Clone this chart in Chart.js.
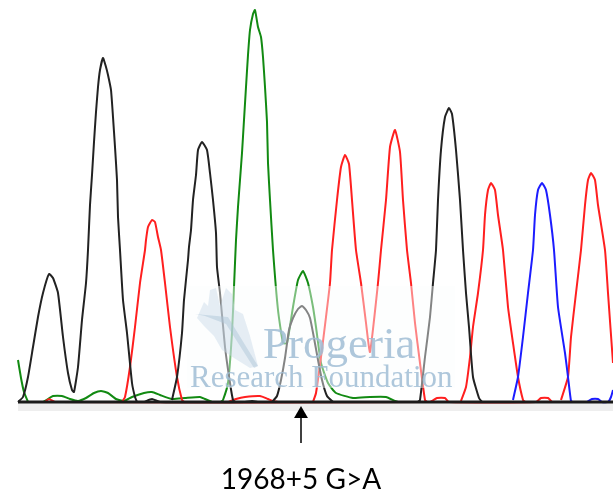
<!DOCTYPE html>
<html>
<head>
<meta charset="utf-8">
<style>
html, body { margin: 0; padding: 0; background: #fff; overflow: hidden; }
#wrap { width: 613px; height: 493px; }
</style>
<script src="https://cdn.jsdelivr.net/npm/chart.js@4"></script>
</head>
<body>
<div id="wrap"><canvas id="myChart" width="613" height="493"></canvas></div>
<script>
// trace values as [scan position, signal height above the baseline]
const blackPeaks = [[18,0],[23,5],[28,25],[33,55],[38,85],[43,109],[49,128],[53,124],[58,109],[63,65],[68,29],[72,12],[74,10],[78,35],[82,82],[86,119],[88,152],[90,197],[92,227],[94,260],[96,290],[98,315],[100,332],[103,344],[106,335],[108,327],[111,312],[113,285],[115,255],[117,222],[118,185],[120,152],[123,102],[127,69],[132,19],[135,5],[137,0]];
const blackPeak2 = [[172,2],[177,25],[182,69],[184,102],[188,142],[189,155],[191,172],[193,202],[196,227],[198,252],[202,260],[207,252],[210,229],[213,202],[216,169],[217,135],[220,109],[225,55],[230,19],[233,2],[235,0]];
const blackSmall = [[272,0],[277,6],[281,22],[285,44],[289,72],[293,84],[298,93],[302,96],[306,92],[310,84],[314,64],[318,42],[322,22],[327,6],[333,0]];
const blackPeak3 = [[418,0],[420,2],[425,45],[430,85],[433,119],[436,152],[438,202],[441,252],[445,285],[449,294],[452,288],[456,252],[460,202],[463,152],[466,109],[469,75],[473,25],[479,4],[482,0]];
const blackBumps = [[144,0],[152,3],[160,0],[245,0],[252,1],[258,0]];

const redPeak1 = [[122,0],[125,5],[130,35],[135,75],[140,119],[145,152],[146,162],[148,175],[152,182],[155,180],[158,165],[161,152],[165,119],[170,75],[177,25],[182,2],[184,0]];
const redPeak2 = [[313,0],[316,9],[321,45],[326,85],[330,119],[332,152],[337,202],[341,235],[345,247],[349,238],[352,202],[356,152],[361,119],[366,79],[370,50],[378,119],[381,152],[386,202],[390,255],[395,272],[400,250],[403,202],[407,152],[411,119],[415,79],[420,39],[425,2],[427,0]];
const redPeak3 = [[461,1],[466,15],[470,45],[473,75],[478,109],[483,152],[485,187],[488,212],[491,219],[495,212],[498,187],[503,152],[508,95],[513,59],[518,25],[523,2],[525,0]];
const redPeak4 = [[561,2],[568,25],[571,65],[576,109],[581,152],[585,197],[588,222],[591,229],[595,222],[598,197],[605,152],[608,109],[613,39]];
const redLow = [[228,0],[236,3],[245,5],[260,6],[268,3],[273,1],[278,0]];
const redBumps = [[45,0],[49,3],[55,0],[430,0],[437,4],[445,4],[449,0],[536,0],[541,4],[548,4],[552,0]];

const greenStart = [[18,42],[21,24],[24,10],[28,0]];
const greenNoise = [[43,0],[48,3],[53,6],[62,6],[70,3],[78,1],[86,4],[94,9],[101,11],[108,9],[116,3],[124,1],[132,5],[144,9],[152,10],[160,7],[172,3],[185,4],[200,5],[205,3],[212,0]];
const greenPeak = [[221,0],[223,2],[228,19],[232,69],[234,115],[236,162],[238,195],[240,222],[242,249],[244,282],[246,315],[248,347],[250,372],[253,388],[255,392],[258,375],[261,365],[263,345],[265,315],[267,280],[268,239],[270,202],[273,152],[278,92],[283,59],[287,59],[293,95],[298,122],[303,131],[308,119],[313,95],[316,75],[321,39],[328,19],[336,9],[353,4],[370,5],[386,5],[395,1],[398,0]];

const bluePeak = [[513,2],[518,25],[523,65],[528,109],[533,152],[535,187],[538,212],[542,219],[546,212],[550,187],[554,152],[558,95],[565,49],[568,25],[571,1],[573,0]];
const blueBumps = [[587,0],[592,3],[598,3],[602,0],[608,0],[611,5],[613,12]];

const baseLine = [[18,0],[613,0]];
const lowerBand = [[18,-5],[613,-5]];
const arrowShaft = [[301,-14],[301,-41]];
const arrowHead = [[301,-12]];

// watermark pieces
const logoHand = [[197,84],[204,100],[208,96],[210,112],[216,114],[220,96],[226,114],[232,108],[235,92],[243,88],[250,66],[258,36],[250,34],[234,44],[222,52],[214,66],[204,76]];
const logoSail = [[195,88],[228,85],[258,36],[254,34],[226,78],[205,86]];
const watermarkBox = [187, 455, 116, 14];
const mutationLabel = '1968+5 G>A';

function traceSet(points, color, order, width) {
  return {
    data: points.map(p => ({ x: p[0], y: p[1] })),
    borderColor: color,
    borderWidth: width || 2,
    pointRadius: 0,
    fill: false,
    tension: 0.15,
    order: order,
  };
}

const colors = { a: '#222222', c: '#ff1f1f', g: '#128a12', t: '#1c1cff' };

const datasets = [
  traceSet(lowerBand, '#eeeeee', 9, 8),
  traceSet(greenStart, colors.g, 6),
  traceSet(greenNoise, colors.g, 6),
  traceSet(greenPeak, colors.g, 6),
  traceSet(redLow, colors.c, 5),
  traceSet(redBumps, colors.c, 5),
  traceSet(redPeak1, colors.c, 5),
  traceSet(redPeak2, colors.c, 5),
  traceSet(redPeak3, colors.c, 5),
  traceSet(redPeak4, colors.c, 5),
  traceSet(bluePeak, colors.t, 4),
  traceSet(blueBumps, colors.t, 4),
  traceSet(blackPeaks, colors.a, 3),
  traceSet(blackPeak2, colors.a, 3),
  traceSet(blackSmall, colors.a, 3),
  traceSet(blackPeak3, colors.a, 3),
  traceSet(blackBumps, colors.a, 3),
  traceSet(baseLine, '#1a1a1a', 2, 3),
  traceSet(arrowShaft, '#000000', 1, 1.5),
  {
    data: arrowHead.map(p => ({ x: p[0], y: p[1] })),
    pointStyle: 'triangle',
    pointRadius: 8,
    pointBackgroundColor: '#000000',
    pointBorderColor: '#000000',
    pointBorderWidth: 0,
    showLine: false,
    order: 1,
  },
];

// faded panel with the foundation's mark, sits on top of the traces like the original
const watermark = {
  id: 'watermark',
  afterDatasetsDraw(chart) {
    const { ctx, scales: { x, y } } = chart;
    const box = watermarkBox;
    const px = p => [x.getPixelForValue(p[0]), y.getPixelForValue(p[1])];
    ctx.save();
    ctx.fillStyle = 'rgba(250,252,253,0.45)';
    ctx.fillRect(x.getPixelForValue(box[0]), y.getPixelForValue(box[2]), x.getPixelForValue(box[1]) - x.getPixelForValue(box[0]), y.getPixelForValue(box[3]) - y.getPixelForValue(box[2]));
    [[logoHand, 'rgba(200,217,232,0.45)'], [logoSail, 'rgba(170,195,215,0.45)']].forEach(([shape, fill]) => {
      ctx.beginPath();
      shape.forEach((p, i) => {
        const [a, b] = px(p);
        if (i === 0) ctx.moveTo(a, b); else ctx.lineTo(a, b);
      });
      ctx.closePath();
      ctx.fillStyle = fill;
      ctx.fill();
    });
    ctx.fillStyle = 'rgba(160,189,213,0.85)';
    ctx.textBaseline = 'alphabetic';
    ctx.font = '45px "Liberation Serif"';
    ctx.fillText('Progeria', 263, 358);
    ctx.font = '31px "Liberation Serif"';
    ctx.fillText('Research Foundation', 190, 387);
    ctx.restore();
  },
  afterDraw(chart) {
    const { ctx } = chart;
    ctx.save();
    ctx.fillStyle = '#000';
    ctx.font = '28px Lato';
    ctx.textAlign = 'center';
    ctx.textBaseline = 'alphabetic';
    ctx.fillText(mutationLabel, 301, 489);
    ctx.restore();
  },
};

const options = {
  responsive: false,
  animation: false,
  layout: { padding: 0, autoPadding: false },
  plugins: {
    legend: { display: false },
    tooltip: { enabled: false },
  },
  scales: {
    x: { type: 'linear', display: false, min: 0, max: 613 },
    y: { type: 'linear', display: false, min: -91, max: 402 },
  },
  clip: false,
};

const myChart = new Chart(document.getElementById('myChart'), {
  type: 'line',
  data: { datasets: datasets },
  options: options,
  plugins: [watermark],
});
</script>
</body>
</html>
